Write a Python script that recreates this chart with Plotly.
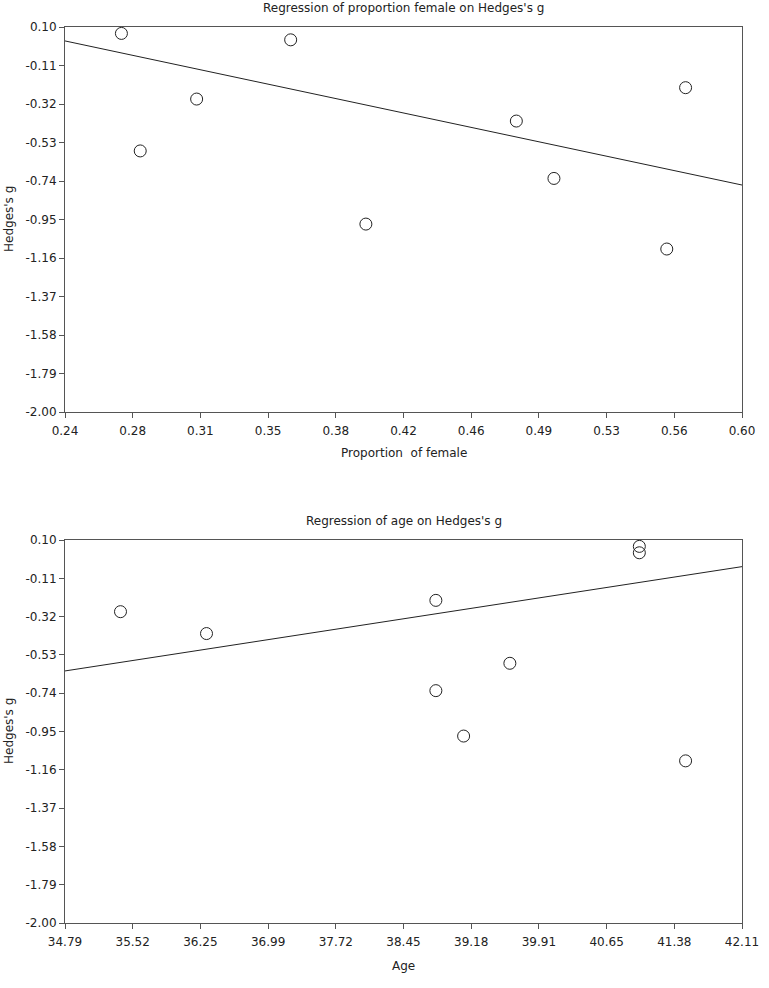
import plotly.graph_objects as go

# Study-level data
hedges_g = [0.065, 0.030, -0.576, -0.293, -0.975, -0.413, -0.726, -1.111, -0.231]
prop_female = [0.270, 0.360, 0.280, 0.310, 0.400, 0.480, 0.500, 0.560, 0.570]
age = [41.00, 41.00, 39.60, 35.39, 39.10, 36.32, 38.80, 41.50, 38.80]

# Fitted regression lines (endpoints)
fit_prop_x = [0.24, 0.60]
fit_prop_y = [0.024, -0.762]
fit_age_x = [34.79, 42.11]
fit_age_y = [-0.618, -0.046]

# Tick positions and labels
prop_tickvals = [0.24, 0.276, 0.312, 0.348, 0.384, 0.42, 0.456, 0.492, 0.528, 0.564, 0.60]
prop_ticktext = ["0.24", "0.28", "0.31", "0.35", "0.38", "0.42", "0.46", "0.49", "0.53", "0.56", "0.60"]
age_tickvals = [34.79, 35.522, 36.254, 36.986, 37.718, 38.45, 39.182, 39.914, 40.646, 41.378, 42.11]
age_ticktext = ["34.79", "35.52", "36.25", "36.99", "37.72", "38.45", "39.18", "39.91", "40.65", "41.38", "42.11"]
g_tickvals = [0.10, -0.11, -0.32, -0.53, -0.74, -0.95, -1.16, -1.37, -1.58, -1.79, -2.00]
g_ticktext = ["0.10", "-0.11", "-0.32", "-0.53", "-0.74", "-0.95", "-1.16", "-1.37", "-1.58", "-1.79", "-2.00"]

W, H = 769, 988
FONT = "DejaVu Sans"
TXT = "#222222"

fig = go.Figure()

marker = dict(symbol="circle-open", size=12, color="#222222", line=dict(width=1, color="#222222"))

fig.add_trace(go.Scatter(x=prop_female, y=hedges_g, mode="markers", marker=marker,
                         xaxis="x", yaxis="y", showlegend=False))
fig.add_trace(go.Scatter(x=fit_prop_x, y=fit_prop_y, mode="lines",
                         line=dict(color="#222222", width=1), xaxis="x", yaxis="y", showlegend=False))
fig.add_trace(go.Scatter(x=age, y=hedges_g, mode="markers", marker=marker,
                         xaxis="x2", yaxis="y2", showlegend=False))
fig.add_trace(go.Scatter(x=fit_age_x, y=fit_age_y, mode="lines",
                         line=dict(color="#222222", width=1), xaxis="x2", yaxis="y2", showlegend=False))

xd = [65 / W, 742 / W]
y1d = [1 - 412 / H, 1 - 27 / H]
y2d = [1 - 923 / H, 1 - 540 / H]

axis_common = dict(showgrid=False, zeroline=False, showline=True, linecolor="#555555", linewidth=1,
                   mirror=True, ticks="outside", ticklen=5, tickcolor="#555555", automargin=False,
                   tickfont=dict(family=FONT, size=12, color=TXT))

fig.update_layout(
    template="none",
    width=W, height=H,
    margin=dict(l=0, r=0, t=0, b=0, pad=0),
    paper_bgcolor="white", plot_bgcolor="white",
    font=dict(family=FONT, size=12, color=TXT),
    xaxis=dict(domain=xd, anchor="y", range=[0.24, 0.60], tickvals=prop_tickvals,
               ticktext=prop_ticktext, ticklabelstandoff=3, **axis_common),
    yaxis=dict(domain=y1d, anchor="x", range=[-2.00, 0.10], tickvals=g_tickvals,
               ticktext=g_ticktext, **axis_common),
    xaxis2=dict(domain=xd, anchor="y2", range=[34.79, 42.11], tickvals=age_tickvals,
                ticktext=age_ticktext, ticklabelstandoff=3, **axis_common),
    yaxis2=dict(domain=y2d, anchor="x2", range=[-2.00, 0.10], tickvals=g_tickvals,
                ticktext=g_ticktext, **axis_common),
)

cx = (65 + 742) / 2 / W

def ann(text, x, ypx, angle=0, size=12):
    fig.add_annotation(text=text, x=x, y=1 - ypx / H, xref="paper", yref="paper",
                       showarrow=False, textangle=angle, xanchor="center", yanchor="middle",
                       font=dict(family=FONT, size=size, color=TXT))

ann("Regression of proportion female on Hedges's g", cx, 8)
ann("Proportion&nbsp; of female", cx, 453)
ann("Hedges's g", 9 / W, 219, -90)
ann("Regression of age on Hedges's g", cx, 521)
ann("Age", cx, 966)
ann("Hedges's g", 9 / W, 731, -90)

fig.write_html("out.html", config={"displayModeBar": False},
               post_script="document.body.style.margin='0';document.body.style.padding='0';")
